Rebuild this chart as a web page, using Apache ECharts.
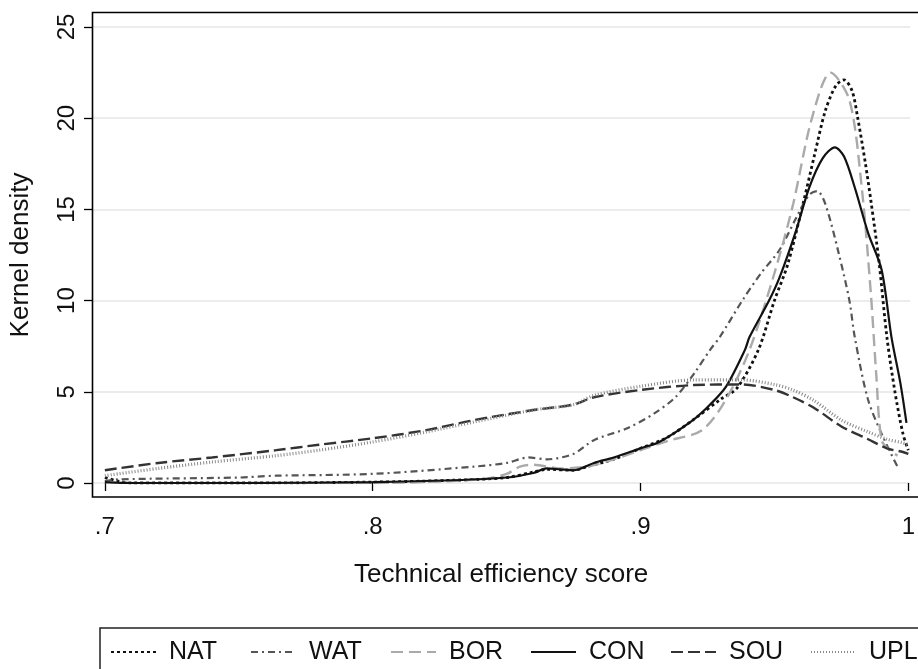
<!DOCTYPE html>
<html><head><meta charset="utf-8">
<script src="https://cdn.jsdelivr.net/npm/echarts@6/dist/echarts.min.js"></script>
<style>html,body{margin:0;padding:0;background:#fff}#c{width:918px;height:669px}</style>
</head><body><div id="c"></div>
<script>
const seriesNames = ['NAT','WAT','BOR','CON','SOU','UPL'];
const xTicks = [0.7, 0.8, 0.9, 1.0];
const yTicks = [0, 5, 10, 15, 20, 25];

const natX = [0.700,0.705,0.71,0.75,0.80,0.83,0.85,0.86,0.865,0.875,0.88,0.89,0.90,0.91,0.92,0.93,0.936,0.944,0.950,0.955,0.961,0.965,0.969,0.973,0.976,0.979,0.981,0.984,0.986,0.989,0.992,0.995,0.998,1.0];
const natY = [0.3,0.1,0.0,0.0,0.05,0.15,0.3,0.6,0.75,0.7,0.9,1.3,1.9,2.5,3.5,4.6,5.2,7.3,10,12,15.5,18,20.4,21.8,22.1,21.5,20.1,17.5,15.5,12.2,8,5,2.7,1.8];

const watX = [0.70,0.705,0.75,0.764,0.80,0.838,0.85,0.858,0.865,0.875,0.8826,0.895,0.905,0.913,0.92,0.926,0.9296,0.938,0.945,0.952,0.958,0.963,0.966,0.969,0.974,0.978,0.98,0.985,0.9911,0.9963];
const watY = [0.1,0.2,0.3,0.4,0.5,0.9,1.1,1.4,1.3,1.6,2.35,3.0,3.8,4.7,6.0,7.3,8.0,10.0,11.5,12.8,14.5,15.8,16.0,15.3,12.6,10,8.0,4.55,2.35,0.8];

const borX = [0.70,0.71,0.75,0.80,0.84,0.85,0.855,0.86,0.87,0.88,0.89,0.90,0.91,0.923,0.932,0.9407,0.95,0.957,0.964,0.971,0.978,0.9826,0.986,0.988,0.99,0.993,0.996];
const borY = [0.05,0.0,0.0,0.0,0.2,0.5,0.9,1.0,0.8,0.9,1.3,1.8,2.3,2.9,4.6,7.3,11.5,15.3,20,22.5,21,16.2,10.4,6,2.35,1.8,1.5];

const conX = [0.70,0.71,0.75,0.80,0.83,0.85,0.86,0.865,0.87,0.875,0.8826,0.89,0.90,0.907,0.9196,0.926,0.932,0.939,0.9407,0.948,0.952,0.958,0.963,0.968,0.9726,0.976,0.98,0.985,0.99,0.9937,0.997,0.9993];
const conY = [0.05,0.0,0.0,0.05,0.15,0.3,0.55,0.8,0.75,0.7,1.1,1.4,1.9,2.25,3.45,4.3,5.3,7.3,8,10,11.3,13.8,16.2,17.8,18.4,17.9,16.2,13.7,11.7,8,5.5,3.3];

const souX = [0.70,0.72,0.74,0.764,0.78,0.80,0.82,0.838,0.86,0.875,0.8826,0.90,0.92,0.938,0.95,0.957,0.965,0.975,0.985,0.992,0.998,1.0];
const souY = [0.7,1.1,1.4,1.8,2.1,2.45,2.9,3.45,4.0,4.3,4.7,5.1,5.37,5.4,5.1,4.7,4.1,3.1,2.4,1.9,1.7,1.6];

const uplX = [0.70,0.72,0.74,0.764,0.78,0.80,0.82,0.838,0.86,0.875,0.8826,0.90,0.92,0.938,0.95,0.957,0.965,0.975,0.985,0.992,0.998,1.0];
const uplY = [0.4,0.8,1.15,1.5,1.8,2.25,2.8,3.35,4.0,4.3,4.8,5.3,5.65,5.65,5.4,5.1,4.5,3.45,2.8,2.4,2.2,2.1];

const xs = [natX, watX, borX, conX, souX, uplX];
const ys = [natY, watY, borY, conY, souY, uplY];
const styles = [
  {color:'#111', width:2.8, type:[3,3]},
  {color:'#555', width:2.2, type:[7,4,2,4]},
  {color:'#aaa', width:2.4, type:[12,6]},
  {color:'#111', width:2.2, type:'solid'},
  {color:'#333', width:2.4, type:[12,5]},
  {color:'#888', width:3.2, type:[1,2]}
];

const FONT = 'Liberation Sans, Arial, sans-serif';
const chart = echarts.init(document.getElementById('c'), null, {renderer:'canvas'});
const series = seriesNames.map((n,i)=>({
  name:n, type:'line', smooth:0.3, symbol:'none', showSymbol:false,
  data: xs[i].map((x,j)=>[x, ys[i][j]]),
  lineStyle: styles[i], itemStyle:{color: styles[i].color},
  z: 3 + i
}));

chart.setOption({
  animation:false,
  backgroundColor:'#fff',
  grid:{left:92, right:0, top:27, bottom:186, containLabel:false},
  xAxis:{
    type:'value', min:0.6952, max:1.0007, offset:14,
    axisLine:{show:false},
    axisTick:{show:true, length:8, lineStyle:{color:'#000', width:1.3}, customValues:xTicks},
    axisLabel:{customValues:xTicks, color:'#111', fontSize:24, fontFamily:FONT, margin:18,
      formatter:v => v>=1 ? '1' : String(Math.round(v*10)/10).replace(/^0/,'')},
    splitLine:{show:false},
    name:'Technical efficiency score', nameLocation:'middle', nameGap:65,
    nameTextStyle:{color:'#111', fontSize:26, fontFamily:FONT}
  },
  yAxis:{
    type:'value', min:0, max:25, interval:5,
    axisLine:{show:false},
    axisTick:{show:true, length:8, lineStyle:{color:'#000', width:1.3}},
    axisLabel:{rotate:90, color:'#111', fontSize:24, fontFamily:FONT, margin:13},
    splitLine:{show:true, lineStyle:{color:'#e6e6e6', width:1.5}},
    name:'Kernel density', nameLocation:'middle', nameGap:58, nameRotate:90,
    nameTextStyle:{color:'#111', fontSize:26, fontFamily:FONT}
  },
  legend:{
    data:seriesNames, left:100, top:628, width:1000, orient:'horizontal',
    itemWidth:45, itemHeight:14, itemGap:9,
    padding:[11, 40, 10, 10],
    borderColor:'#222', borderWidth:1.5, borderRadius:0,
    itemStyle:{opacity:0, borderWidth:0, color:'rgba(0,0,0,0)'},
    textStyle:{color:'#111', fontSize:25, fontFamily:FONT, width:72, lineHeight:26, padding:[0,0,0,8]}
  },
  graphic:[{
    type:'polyline', silent:true, z:100,
    shape:{points:[[918,12.5],[92.5,12.5],[92.5,497],[918,497]]},
    style:{stroke:'#000', lineWidth:1.6, fill:null}
  }],
  series: series
});
</script></body></html>
